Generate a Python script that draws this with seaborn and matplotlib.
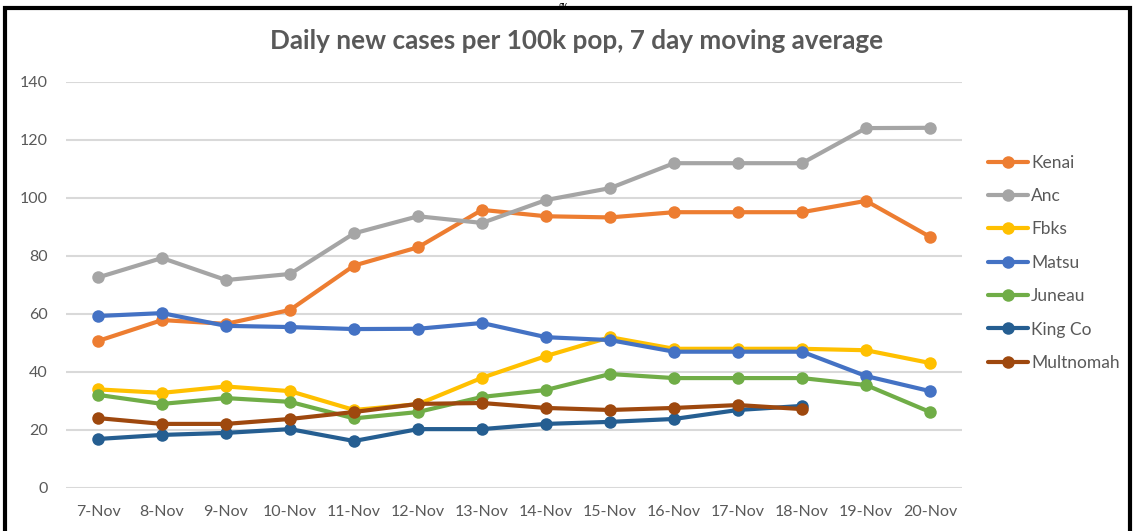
import matplotlib
matplotlib.use("Agg")
import matplotlib.pyplot as plt
from matplotlib.lines import Line2D
from matplotlib.patches import Rectangle
import numpy as np
import pandas as pd
import seaborn as sns

sns.set_theme(style="white")
plt.rcParams["font.family"] = ["Lato", "DejaVu Sans"]

dates = ["7-Nov", "8-Nov", "9-Nov", "10-Nov", "11-Nov", "12-Nov", "13-Nov",
         "14-Nov", "15-Nov", "16-Nov", "17-Nov", "18-Nov", "19-Nov", "20-Nov"]

kenai = [50.7, 57.9, 56.6, 61.4, 76.7, 83.0, 95.9, 93.7, 93.3, 95.1, 95.1, 95.1, 99.0, 86.6]
anc = [72.6, 79.3, 71.7, 73.8, 87.8, 93.7, 91.4, 99.3, 103.4, 112.0, 112.0, 112.0, 124.1, 124.2]
fbks = [34.0, 32.8, 35.0, 33.4, 26.9, 28.9, 38.0, 45.5, 52.0, 48.0, 48.0, 48.0, 47.5, 43.1]
matsu = [59.3, 60.3, 55.9, 55.5, 54.8, 54.9, 56.9, 52.0, 51.0, 47.0, 47.0, 47.0, 38.6, 33.4]
juneau = [32.1, 29.0, 31.0, 29.7, 24.0, 26.2, 31.4, 33.8, 39.3, 37.9, 37.9, 37.9, 35.5, 26.2]
king_co = [16.9, 18.3, 19.0, 20.3, 16.2, 20.3, 20.3, 22.1, 22.8, 23.8, 26.9, 28.3, np.nan, np.nan]
multnomah = [24.1, 22.1, 22.1, 23.8, 26.2, 29.0, 29.3, 27.6, 26.9, 27.6, 28.6, 27.2, np.nan, np.nan]

series = {
    "Kenai": kenai,
    "Anc": anc,
    "Fbks": fbks,
    "Matsu": matsu,
    "Juneau": juneau,
    "King Co": king_co,
    "Multnomah": multnomah,
}
colors = ["#ED7D31", "#A5A5A5", "#FFC000", "#4472C4", "#70AD47", "#255E91", "#9E480E"]
palette = dict(zip(series.keys(), colors))

df = pd.DataFrame(
    [(d, name, v) for name, vals in series.items() for d, v in zip(dates, vals)],
    columns=["date", "county", "value"],
).dropna()

fig = plt.figure(figsize=(11.33, 5.31), dpi=100)
ax = fig.add_axes([0.0583, 0.0810, 0.7908, 0.7646])

sns.lineplot(
    data=df, x="date", y="value", hue="county", palette=palette,
    hue_order=list(series.keys()), sort=False, marker="o", markersize=9,
    markeredgewidth=0, linewidth=3, ax=ax, legend=False,
)

grey = "#595959"
ax.set_xlim(-0.5, len(dates) - 0.5)
ax.set_ylim(0, 140)
ax.set_yticks(range(0, 141, 20))
ax.yaxis.grid(True, color="#D9D9D9", linewidth=1.5)
ax.xaxis.grid(False)
ax.set_axisbelow(True)
for s in ax.spines.values():
    s.set_visible(False)
ax.tick_params(axis="both", length=0, labelsize=11.5, labelcolor=grey)
ax.tick_params(axis="y", pad=13)
ax.tick_params(axis="x", pad=12)
ax.set_xlabel("")
ax.set_ylabel("")

fig.text(0.509, 0.923, "Daily new cases per 100k pop, 7 day moving average",
         ha="center", va="center", fontsize=18.8, fontweight="bold", color=grey)

handles = [Line2D([0], [0], color=c, lw=3, marker="o", markersize=9, markeredgewidth=0)
           for c in colors]
fig.legend(handles, list(series.keys()), loc="center left",
           bbox_to_anchor=(0.858, 0.505), frameon=False, fontsize=12.5,
           labelcolor=grey, labelspacing=1.0, handlelength=2.3,
           handletextpad=0.2)

# page frame and cut-off text above the chart
fig.add_artist(Rectangle((0.0045, -0.05), 0.9925, 1.035, transform=fig.transFigure,
                         fill=False, edgecolor="black", linewidth=3))
fig.text(0.497, 0.999, "gy", ha="center", va="top", fontsize=6.5,
         fontstyle="italic", color="black")

fig.savefig("out.png", dpi=100)
